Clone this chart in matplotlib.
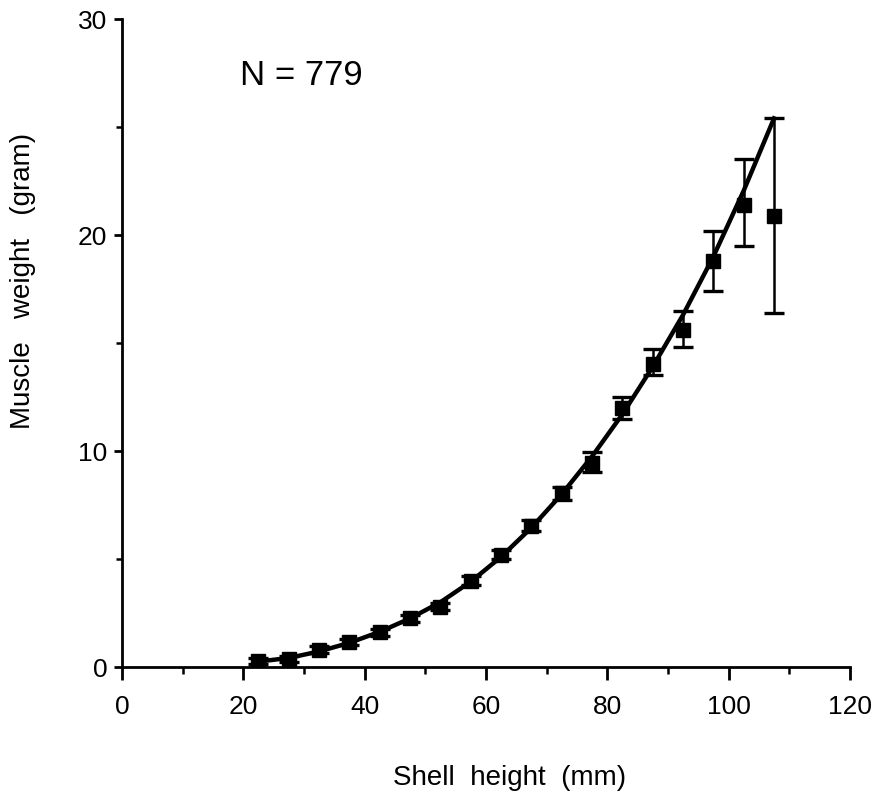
import numpy as np
import matplotlib
matplotlib.use("Agg")
import matplotlib.pyplot as plt
from matplotlib.ticker import MultipleLocator

plt.rcParams['font.family'] = ['Liberation Sans', 'DejaVu Sans']

shell_height = [22.5, 27.5, 32.5, 37.5, 42.5, 47.5, 52.5, 57.5, 62.5, 67.5,
                72.5, 77.5, 82.5, 87.5, 92.5, 97.5, 102.5, 107.5]
muscle_weight = [0.28, 0.37, 0.8, 1.15, 1.6, 2.25, 2.8, 4.0, 5.2, 6.55,
                 8.05, 9.45, 12.0, 14.05, 15.6, 18.8, 21.4, 20.9]
err_low = [0.12, 0.12, 0.15, 0.15, 0.15, 0.15, 0.15, 0.2, 0.2, 0.25,
           0.3, 0.4, 0.5, 0.55, 0.8, 1.4, 1.9, 4.5]
err_high = [0.12, 0.12, 0.15, 0.15, 0.15, 0.15, 0.15, 0.2, 0.2, 0.25,
            0.3, 0.5, 0.5, 0.65, 0.9, 1.4, 2.1, 4.5]
fit_curve = [0.25, 0.42, 0.72, 1.12, 1.63, 2.25, 3.0, 3.95, 5.1, 6.45,
             8.0, 9.75, 11.7, 13.9, 16.3, 19.0, 22.05, 25.4]
n_label = "N = 779"

fig = plt.figure(figsize=(8.79, 7.99), dpi=100)
ax = fig.add_axes([0.1388, 0.1652, 0.828, 0.811])

ax.plot(shell_height, fit_curve, color='black', lw=3.2, zorder=2)
ax.errorbar(shell_height, muscle_weight, yerr=[err_low, err_high], fmt='s',
            color='black', ms=10.5, elinewidth=1.8, capsize=7, capthick=2.4, zorder=3)

ax.set_xlim(0, 120)
ax.set_ylim(0, 30)
ax.xaxis.set_major_locator(MultipleLocator(20))
ax.xaxis.set_minor_locator(MultipleLocator(10))
ax.yaxis.set_major_locator(MultipleLocator(10))
ax.yaxis.set_minor_locator(MultipleLocator(5))
for s in ['top', 'right']:
    ax.spines[s].set_visible(False)
for s in ['left', 'bottom']:
    ax.spines[s].set_linewidth(2)
ax.tick_params(axis='x', which='major', direction='out', length=9.5, width=2,
               labelsize=19, pad=11)
ax.tick_params(axis='x', which='minor', direction='out', length=5, width=1.8)
ax.tick_params(axis='y', which='major', direction='out', length=5.5, width=2,
               labelsize=19, pad=5)
ax.tick_params(axis='y', which='minor', direction='out', length=4.5, width=1.8)

fig.text(510 / 879, 1 - 778 / 799, 'Shell  height  (mm)', fontsize=20,
         ha='center', va='center')
fig.text(23 / 879, 1 - 281 / 799, 'Muscle   weight   (gram)', fontsize=20,
         ha='center', va='center', rotation=90)
ax.text(19.5, 27.4, n_label, fontsize=25, va='center', ha='left')

fig.savefig('out.png', dpi=100)
